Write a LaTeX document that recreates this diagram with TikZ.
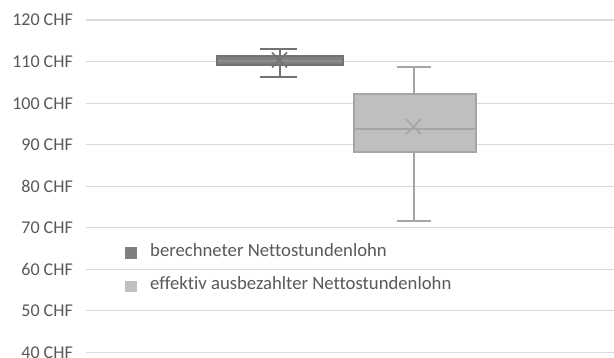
\documentclass[tikz,border=0pt]{standalone}
\usepackage{fontspec}
\setmainfont{Carlito}[Ligatures=NoCommon]
\definecolor{txt}{HTML}{595959}
\definecolor{grid}{HTML}{D9D9D9}
\definecolor{darkfill}{HTML}{7F7F7F}
\definecolor{darkline}{HTML}{737373}
\definecolor{darkmed}{HTML}{8C8C8C}
\definecolor{lightfill}{HTML}{BFBFBF}
\definecolor{lightline}{HTML}{A5A5A5}
\tikzset{
  gridline/.style={draw=grid, line width=1.3pt},
  axislabel/.style={anchor=east, inner sep=0pt, text=txt, font=\fontsize{18}{20}\selectfont},
  legtext/.style={anchor=base west, inner sep=0pt, text=txt, font=\fontsize{18.7}{20}\selectfont},
  darkbox/.style={fill=darkfill, draw=darkline, line width=2pt},
  lightbox/.style={fill=lightfill, draw=lightline, line width=2pt},
  darkwhisk/.style={draw=darkline, line width=2pt},
  lightwhisk/.style={draw=lightline, line width=2pt},
}
\begin{document}
\begin{tikzpicture}[x=1pt, y=-1pt]
\useasboundingbox (0,0) rectangle (614,358);
\fill[white] (0,0) rectangle (614,358);
% grid lines and labels
\foreach \v/\yy in {120/20, 110/61.7, 100/103.3, 90/144.8, 80/186.3, 70/227.8, 60/269.3, 50/310.8, 40/352.3}{
  \draw[gridline] (86,\yy) -- (614,\yy);
  \node[axislabel] (lab\v) at (73,\yy) {\v{} CHF};
}
% box 1 (berechneter Nettostundenlohn)
\draw[darkwhisk] (279.5,49) -- (279.5,56);
\draw[darkwhisk] (279.5,65.3) -- (279.5,76.7);
\draw[darkwhisk] (260,49) -- (297,49);
\draw[darkwhisk] (260,76.7) -- (297,76.7);
\draw[darkbox] (216.7,56) rectangle (342.7,65.3);
\draw[draw=darkmed, line width=1.6pt] (217.7,61.2) -- (341.7,61.2);
\draw[darkwhisk, line width=1.6pt] (272,52.5) -- (287,67.5) (272,67.5) -- (287,52.5);
% box 2 (effektiv ausbezahlter Nettostundenlohn)
\draw[lightwhisk] (414,67) -- (414,94.3);
\draw[lightwhisk] (414,151.7) -- (414,220.7);
\draw[lightwhisk] (396.7,67) -- (430.7,67);
\draw[lightwhisk] (396.7,220.7) -- (430.7,220.7);
\draw[lightbox] (353.7,94.3) rectangle (476,151.7);
\draw[lightwhisk] (353.7,128.7) -- (476,128.7);
\draw[lightwhisk, line width=1.6pt] (406,119.2) -- (421,134.2) (406,134.2) -- (421,119.2);
% legend
\fill[darkfill] (125,247.3) rectangle (136.7,259);
\node[legtext] (leg1) at (150,256.7) {berechneter Nettostundenlohn};
\fill[lightfill] (125,280.7) rectangle (136.7,291.7);
\node[legtext] (leg2) at (150,289.3) {effektiv ausbezahlter Nettostundenlohn};
\end{tikzpicture}
\end{document}
